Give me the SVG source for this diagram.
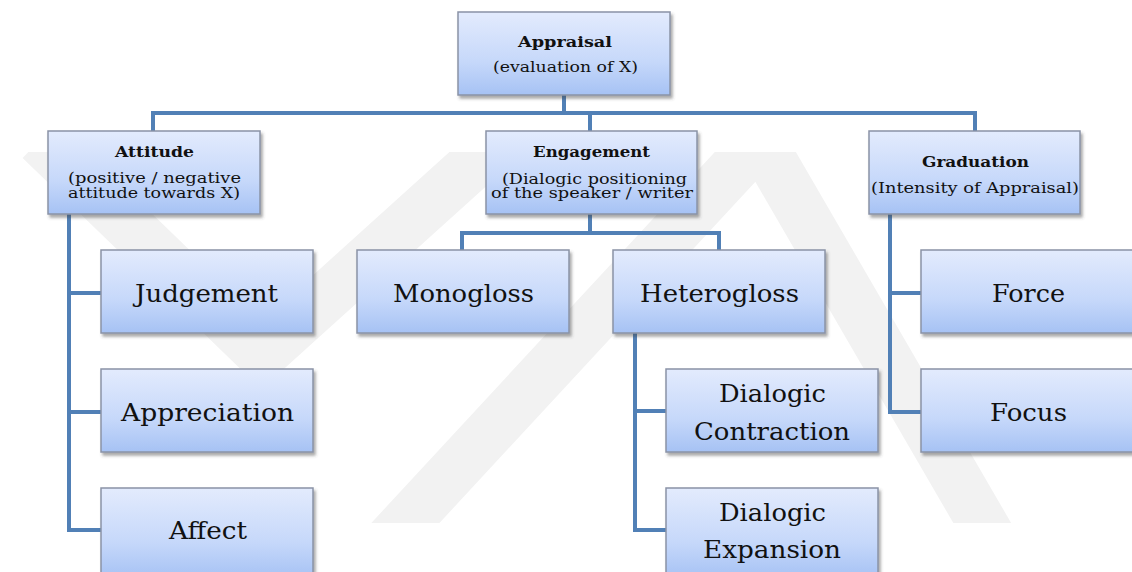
<svg xmlns="http://www.w3.org/2000/svg" width="1132" height="572" viewBox="0 0 1132 572">
<defs>
<linearGradient id="boxGrad" x1="0" y1="0" x2="0" y2="1">
<stop offset="0" stop-color="#e3ebfd"/>
<stop offset="0.6" stop-color="#c6d8fa"/>
<stop offset="1" stop-color="#a6c2f4"/>
</linearGradient>
<filter id="shadow" x="-10%" y="-10%" width="125%" height="130%">
<feDropShadow dx="2" dy="3" stdDeviation="1.6" flood-color="#404040" flood-opacity="0.45"/>
</filter>
<clipPath id="wmClip"><rect x="0" y="152" width="1132" height="371"/></clipPath>
</defs>
<style>
.box{fill:url(#boxGrad);stroke:#8a93a6;stroke-width:1.5;filter:url(#shadow)}
.conn{fill:none;stroke:#5180b6;stroke-width:4;stroke-linejoin:miter;stroke-linecap:butt}
.t{font-family:"DejaVu Serif","Liberation Serif",serif;fill:#111111}
.big{font-size:24px}
.small{font-size:14px}
.bold{font-size:14px;font-weight:bold}
.wm{fill:none;stroke:#f2f2f2;stroke-width:50;stroke-linejoin:miter}
</style>
<rect width="1132" height="572" fill="#ffffff"/>
<g id="watermark" clip-path="url(#wmClip)">
<polyline class="wm" points="40,140 262,355 500,140"/>
<polyline class="wm" points="385,545 760,140 995,545"/>
</g>
<g id="connectors">
<path class="conn" d="M564,95 V113 M153,131 V113 H975 V131 M590,113 V131"/>
<path class="conn" d="M69,214 V530 H101 M69,293 H101 M69,412 H101"/>
<path class="conn" d="M590,214 V233 M462,250 V233 H719 V250"/>
<path class="conn" d="M635,333 V530 H666 M635,411 H666"/>
<path class="conn" d="M890,214 V412 H921 M890,293 H921"/>
</g>
<g id="appraisal">
<rect class="box" x="458" y="12" width="212" height="83"/>
<text class="t bold" x="518" y="47" textLength="94" lengthAdjust="spacingAndGlyphs">Appraisal</text>
<text class="t small" x="493" y="72" textLength="145" lengthAdjust="spacingAndGlyphs">(evaluation of X)</text>
</g>
<g id="attitude">
<rect class="box" x="48" y="131" width="212" height="83"/>
<text class="t bold" x="115" y="157" textLength="79" lengthAdjust="spacingAndGlyphs">Attitude</text>
<text class="t small" x="68" y="183" textLength="173" lengthAdjust="spacingAndGlyphs">(positive / negative</text>
<text class="t small" x="68" y="198" textLength="172" lengthAdjust="spacingAndGlyphs">attitude towards X)</text>
</g>
<g id="engagement">
<rect class="box" x="486" y="131" width="211" height="83"/>
<text class="t bold" x="533" y="157" textLength="117" lengthAdjust="spacingAndGlyphs">Engagement</text>
<text class="t small" x="502" y="184" textLength="185" lengthAdjust="spacingAndGlyphs">(Dialogic positioning</text>
<text class="t small" x="491" y="198" textLength="202" lengthAdjust="spacingAndGlyphs">of the speaker / writer</text>
</g>
<g id="graduation">
<rect class="box" x="869" y="131" width="211" height="83"/>
<text class="t bold" x="922" y="167" textLength="107" lengthAdjust="spacingAndGlyphs">Graduation</text>
<text class="t small" x="871" y="193" textLength="208" lengthAdjust="spacingAndGlyphs">(Intensity of Appraisal)</text>
</g>
<g id="judgement">
<rect class="box" x="101" y="250" width="212" height="83"/>
<text class="t big" x="135" y="302" textLength="143" lengthAdjust="spacingAndGlyphs">Judgement</text>
</g>
<g id="appreciation">
<rect class="box" x="101" y="369" width="212" height="83"/>
<text class="t big" x="121" y="421" textLength="173" lengthAdjust="spacingAndGlyphs">Appreciation</text>
</g>
<g id="affect">
<rect class="box" x="101" y="488" width="212" height="90"/>
<text class="t big" x="169" y="539" textLength="78" lengthAdjust="spacingAndGlyphs">Affect</text>
</g>
<g id="monogloss">
<rect class="box" x="357" y="250" width="212" height="83"/>
<text class="t big" x="393" y="302" textLength="141" lengthAdjust="spacingAndGlyphs">Monogloss</text>
</g>
<g id="heterogloss">
<rect class="box" x="613" y="250" width="212" height="83"/>
<text class="t big" x="640" y="302" textLength="159" lengthAdjust="spacingAndGlyphs">Heterogloss</text>
</g>
<g id="dialogic-contraction">
<rect class="box" x="666" y="369" width="212" height="83"/>
<text class="t big" x="719" y="402" textLength="107" lengthAdjust="spacingAndGlyphs">Dialogic</text>
<text class="t big" x="694" y="440" textLength="156" lengthAdjust="spacingAndGlyphs">Contraction</text>
</g>
<g id="dialogic-expansion">
<rect class="box" x="666" y="488" width="212" height="90"/>
<text class="t big" x="719" y="521" textLength="107" lengthAdjust="spacingAndGlyphs">Dialogic</text>
<text class="t big" x="703" y="558" textLength="138" lengthAdjust="spacingAndGlyphs">Expansion</text>
</g>
<g id="force">
<rect class="box" x="921" y="250" width="220" height="83"/>
<text class="t big" x="992" y="302" textLength="73" lengthAdjust="spacingAndGlyphs">Force</text>
</g>
<g id="focus">
<rect class="box" x="921" y="369" width="220" height="83"/>
<text class="t big" x="990" y="421" textLength="77" lengthAdjust="spacingAndGlyphs">Focus</text>
</g>
</svg>
